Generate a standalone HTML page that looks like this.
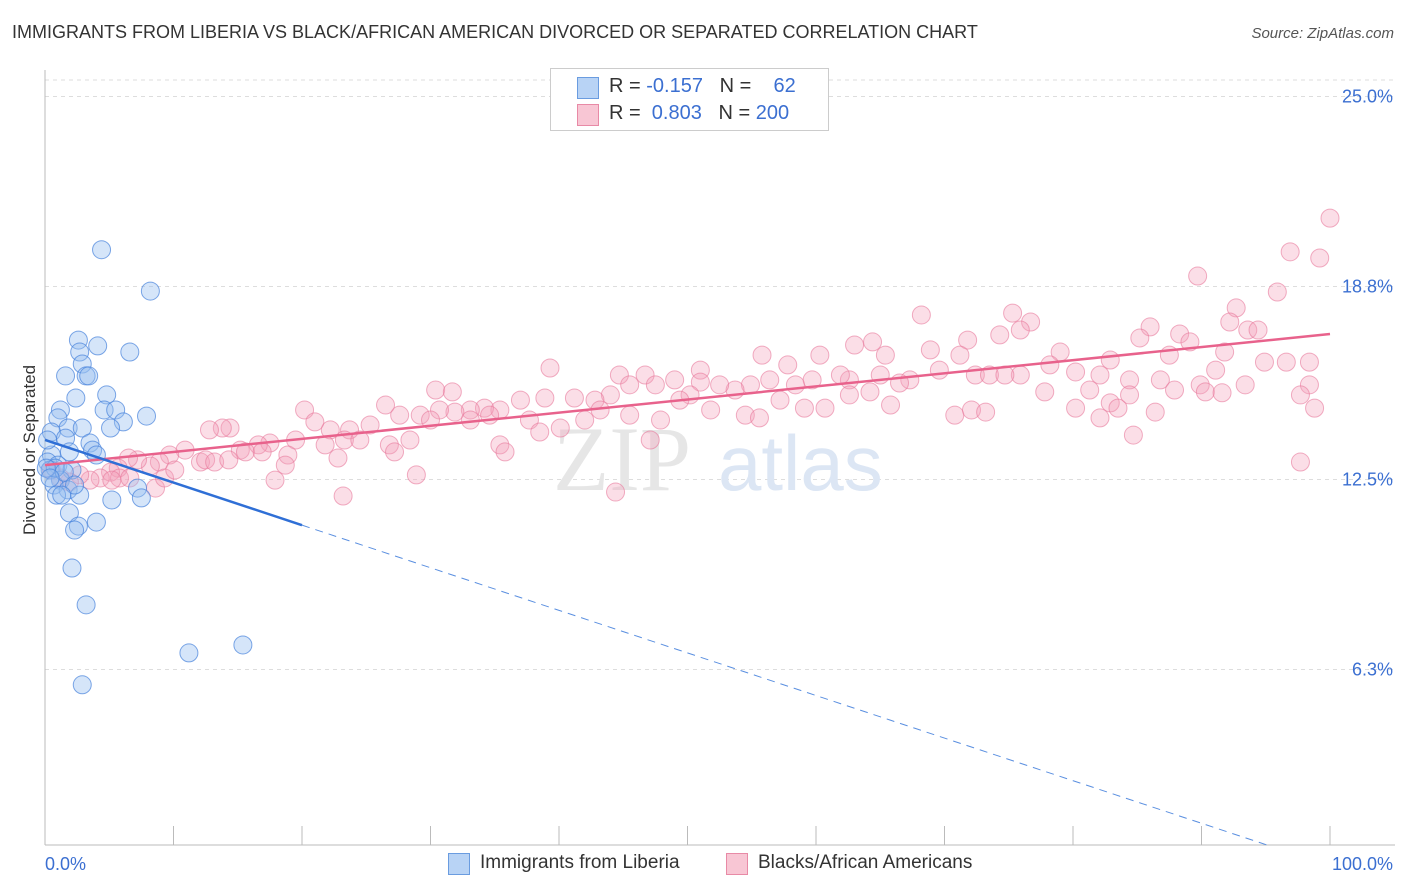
<!DOCTYPE html>
<html><head><meta charset="utf-8"><style>
body{margin:0;background:#fff;font-family:"Liberation Sans",sans-serif;}
#wrap{position:relative;width:1406px;height:892px;overflow:hidden;}
.t{position:absolute;white-space:nowrap;}
</style></head><body>
<div id="wrap">
<div class="t" style="left:12px;top:22px;font-size:18px;color:#333;">IMMIGRANTS FROM LIBERIA VS BLACK/AFRICAN AMERICAN DIVORCED OR SEPARATED CORRELATION CHART</div>
<div class="t" style="right:12px;top:25px;font-size:15px;color:#555;font-style:italic;">Source: ZipAtlas.com</div>
<div class="t" style="left:-50px;top:445px;font-size:17px;color:#333;transform:rotate(-90deg);width:160px;text-align:center;">Divorced or Separated</div>
<svg id="plot" width="1406" height="892" style="position:absolute;left:0;top:0"></svg>
<div style="position:absolute;left:550px;top:68px;width:277px;height:61px;border:1px solid #ccc;background:#fff;font-size:20px;">
 <div style="position:absolute;left:26px;top:8px;width:20px;height:20px;background:#b8d3f5;border:1px solid #6a9ce0;"></div>
 <div class="t" style="left:58px;top:6px;color:#333;">R = <span style="color:#3b6fd1">-0.157</span>&nbsp;&nbsp;&nbsp;N = &nbsp;&nbsp;&nbsp;<span style="color:#3b6fd1">62</span></div>
 <div style="position:absolute;left:26px;top:35px;width:20px;height:20px;background:#f8c6d4;border:1px solid #e88aa6;"></div>
 <div class="t" style="left:58px;top:33px;color:#333;">R = &nbsp;<span style="color:#3b6fd1">0.803</span>&nbsp;&nbsp;&nbsp;N = <span style="color:#3b6fd1">200</span></div>
</div>
<div style="position:absolute;left:448px;top:852px;font-size:19px;color:#333;">
 <div style="position:absolute;left:0;top:1px;width:20px;height:20px;background:#b8d3f5;border:1px solid #6a9ce0;"></div>
 <div class="t" style="left:32px;top:0;">Immigrants from Liberia</div>
 <div style="position:absolute;left:278px;top:1px;width:20px;height:20px;background:#f8c6d4;border:1px solid #e88aa6;"></div>
 <div class="t" style="left:310px;top:0;">Blacks/African Americans</div>
</div>
</div>
<script>
const yTicks=[25.0,18.8,12.5,6.3];
const yTickLabels=["25.0%","18.8%","12.5%","6.3%"];
const blueX=[4.4,8.2,2.6,4.1,6.6,2.7,2.9,1.6,3.2,3.4,4.8,2.4,4.6,5.5,1.2,1.0,6.1,7.9,5.1,1.8,2.9,0.5,1.6,3.5,3.7,1.9,0.5,0.2,1.0,2.1,0.4,1.2,0.7,1.8,2.7,5.2,7.2,7.5,0.9,1.9,4.0,2.6,2.3,2.1,3.2,11.2,15.4,2.9,0.2,0.8,1.5,2.3,1.3,0.1,0.4,4.0];
const blueY=[20.0,18.65,17.05,16.86,16.66,16.66,16.27,15.88,15.88,15.88,15.26,15.16,14.77,14.77,14.77,14.51,14.38,14.57,14.18,14.18,14.18,14.05,13.85,13.69,13.46,13.4,13.3,13.07,12.97,12.81,12.81,12.48,12.32,12.16,11.99,11.83,12.22,11.9,11.99,11.41,11.11,10.98,10.85,9.61,8.41,6.84,7.1,5.8,13.79,12.87,12.74,12.32,11.99,12.87,12.55,13.3];
const pinkX=[100,96.9,99.2,89.7,95.9,68.2,75.3,76.7,92.7,92.2,93.6,94.4,86.0,85.2,88.3,89.1,74.3,75.9,71.8,68.9,64.4,65.4,60.3,55.8,57.8,63.0,51.0,46.7,44.7,39.3,79.0,82.9,87.5,91.8,94.9,96.6,98.4,78.2,80.2,82.1,84.4,86.8,89.9,91.1,93.4,98.4,97.7,98.8,90.3,91.6,81.3,77.8,84.4,82.9,80.2,75.9,72.4,73.5,74.7,71.2,69.6,67.3,66.5,65.0,62.6,61.9,59.7,58.4,56.4,54.9,53.7,52.5,51.0,50.2,49.0,47.5,45.5,44.0,42.8,41.2,38.9,37.0,35.4,34.2,33.1,31.9,30.7,29.2,27.6,26.5,25.3,23.7,22.2,20.2,21.0,19.5,17.5,16.6,15.2,14.4,13.8,12.8,12.1,10.9,9.7,8.9,8.2,7.2,6.5,5.7,5.1,4.3,3.5,2.7,1.9,1.2,0.5,5.8,6.6,8.6,9.3,12.5,13.2,15.6,16.9,18.9,21.8,22.8,23.3,24.5,26.8,27.2,28.4,28.9,30.0,30.4,31.7,33.1,34.6,35.4,35.8,37.7,38.5,40.1,42.0,43.2,45.5,47.1,47.9,49.4,51.8,54.5,55.6,57.2,59.1,60.7,62.6,64.2,65.8,70.8,72.1,73.2,82.1,83.5,84.7,86.4,97.7,87.9,44.4,23.2,17.9,10.1,18.7,14.3,5.2];
const pinkY=[21.03,19.93,19.73,19.14,18.62,17.87,17.93,17.64,18.1,17.64,17.38,17.38,17.48,17.12,17.25,16.99,17.22,17.38,17.05,16.73,16.99,16.56,16.56,16.56,16.24,16.89,16.07,15.91,15.91,16.14,16.66,16.4,16.56,16.66,16.33,16.33,16.33,16.24,16.01,15.91,15.75,15.75,15.59,16.07,15.59,15.59,15.26,14.83,15.36,15.33,15.42,15.36,15.26,15.0,14.83,15.91,15.91,15.91,15.91,16.56,16.07,15.75,15.65,15.91,15.75,15.91,15.75,15.59,15.75,15.59,15.42,15.59,15.68,15.26,15.75,15.59,15.59,15.26,15.09,15.16,15.16,15.09,14.77,14.83,14.77,14.7,14.77,14.6,14.6,14.93,14.28,14.12,14.12,14.77,14.38,13.79,13.69,13.63,13.46,14.18,14.18,14.12,13.07,13.46,13.3,13.07,12.94,13.14,13.2,12.87,12.74,12.55,12.48,12.65,12.42,12.55,12.81,12.55,12.55,12.22,12.55,13.14,13.07,13.4,13.4,13.3,13.63,13.2,13.79,13.79,13.63,13.4,13.79,12.65,14.44,15.42,15.36,14.44,14.6,13.63,13.4,14.44,14.05,14.18,14.44,14.77,14.6,13.79,14.44,15.09,14.77,14.6,14.51,15.09,14.83,14.83,15.26,15.36,14.93,14.6,14.77,14.7,14.51,14.83,13.95,14.7,13.07,15.42,12.09,11.96,12.48,12.81,12.97,13.14,12.48];
const blueTrend=[13.79,-0.139];
const pinkTrend=[12.97,0.0428];

const NS="http://www.w3.org/2000/svg";
const svg=document.getElementById('plot');
const X0=45,X1=1330,Y0=862.5,PPY=30.64,TOP=70,BOT=845;
const sx=v=>X0+v*(X1-X0)/100;
const sy=v=>Y0-v*PPY;
function mk(tag,attrs){const e=document.createElementNS(NS,tag);for(const k in attrs)e.setAttribute(k,attrs[k]);svg.appendChild(e);return e;}
// gridlines
yTicks.forEach((t,i)=>{
 const g=mk('line',{x1:X0,x2:1395,y1:sy(t),y2:sy(t),stroke:'#ddd','stroke-dasharray':'4,4'});
 
 
 const tx=mk('text',{x:1393,y:sy(t)+6,'text-anchor':'end','font-size':18,fill:'#3b6fd1','font-family':'Liberation Sans'});
 tx.textContent=yTickLabels[i];
 
 
});
const tg=mk('line',{x1:X0,x2:1395,y1:80,y2:80,stroke:'#ddd','stroke-dasharray':'4,4'});


// axes
const ya=mk('line',{x1:X0,x2:X0,y1:TOP,y2:BOT,stroke:'#bbb'});


const xa=mk('line',{x1:X0,x2:1395,y1:BOT,y2:BOT,stroke:'#bbb'});


for(let i=0;i<=10;i++){
 const tk=mk('line',{x1:sx(i*10),x2:sx(i*10),y1:826,y2:BOT,stroke:'#bbb'});
 
 
}
[["0.0%",45,'start'],["100.0%",1393,'end']].forEach(a=>{
 const t=mk('text',{x:a[1],y:870,'text-anchor':a[2],'font-size':18,fill:'#3b6fd1','font-family':'Liberation Sans'});
 t.textContent=a[0];
 
 
});
// watermark
const wm=mk('text',{x:553,y:490,'font-size':92,fill:'#e6e6e6','font-family':'Liberation Serif'});
wm.textContent='ZIP';


const wm2=mk('text',{x:718,y:490,'font-size':78,fill:'#dce6f4','font-family':'Liberation Sans'});
wm2.textContent='atlas';


// points
pinkX.forEach((x,i)=>{
 const c=mk('circle',{cx:sx(x),cy:sy(pinkY[i]),r:9,fill:'rgba(244,160,185,0.35)',stroke:'rgba(232,120,155,0.6)','stroke-width':1});
 
 
});
blueX.forEach((x,i)=>{
 const c=mk('circle',{cx:sx(x),cy:sy(blueY[i]),r:9,fill:'rgba(150,190,240,0.4)',stroke:'rgba(70,130,220,0.7)','stroke-width':1});
 
 
});
// trends
const pl=mk('line',{x1:sx(0),y1:sy(pinkTrend[0]),x2:sx(100),y2:sy(pinkTrend[0]+pinkTrend[1]*100),stroke:'#e8628c','stroke-width':2.5});


const bl=mk('line',{x1:sx(0),y1:sy(blueTrend[0]),x2:sx(20),y2:sy(blueTrend[0]+blueTrend[1]*20),stroke:'#2f6fd6','stroke-width':2.5});


const xEnd=Math.min(100,(blueTrend[0]-sy.length*0-((Y0-BOT)/PPY))/(-blueTrend[1]));
const bd=mk('line',{x1:sx(20),y1:sy(blueTrend[0]+blueTrend[1]*20),x2:sx(xEnd),y2:sy(blueTrend[0]+blueTrend[1]*xEnd),stroke:'#5a8fe0','stroke-width':1,'stroke-dasharray':'8,6'});


</script>
</body></html>
